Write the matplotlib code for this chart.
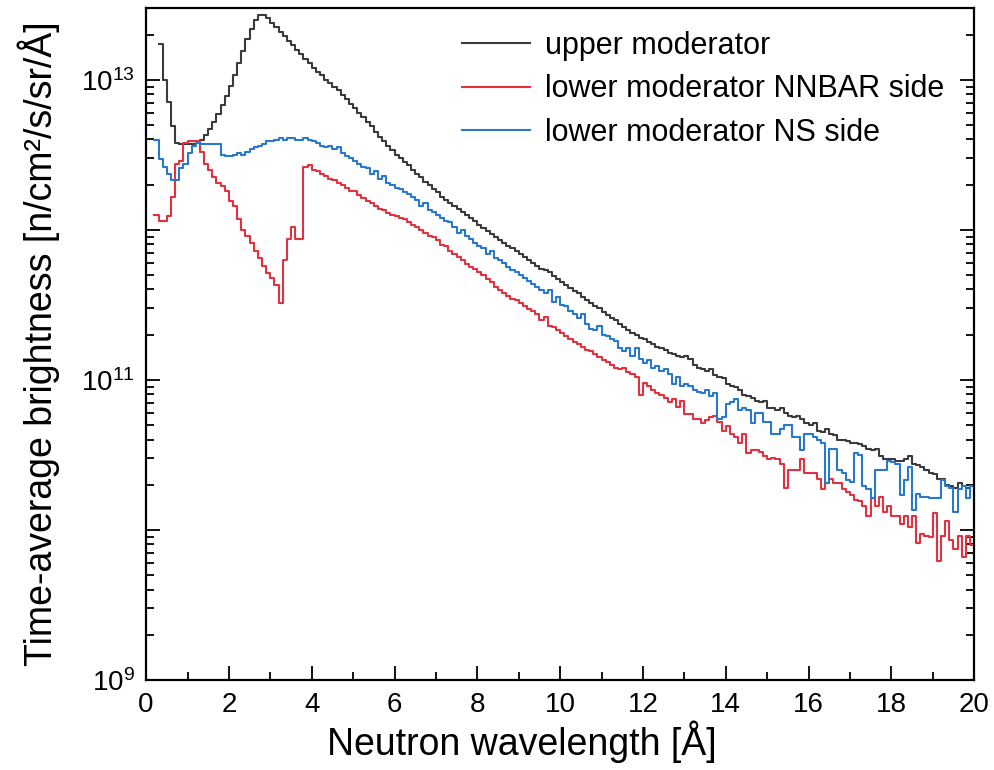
import numpy as np
import matplotlib
matplotlib.use("Agg")
import matplotlib.pyplot as plt
from matplotlib.ticker import FixedLocator, FuncFormatter, LogLocator, MultipleLocator

plt.rcParams["font.family"] = ["Liberation Sans", "DejaVu Sans"]
plt.rcParams["mathtext.fontset"] = "custom"
plt.rcParams["mathtext.rm"] = "Liberation Sans"

# 0.1 A bins, values as log10(brightness)
bin_width = 0.1

upper_start = 0.3
upper_log = [
    13.24, 13.00, 12.85, 12.69, 12.58, 12.57, 12.57,
    12.57, 12.57, 12.58, 12.60, 12.63, 12.67, 12.72, 12.77, 12.83, 12.89,
    12.96, 13.03, 13.11, 13.19, 13.27, 13.34, 13.40, 13.43, 13.43, 13.41,
    13.38, 13.35, 13.32, 13.29, 13.26, 13.23, 13.20, 13.17, 13.14, 13.11,
    13.08, 13.05, 13.03, 13.00, 12.98, 12.95, 12.93, 12.90, 12.87, 12.84,
    12.81, 12.78, 12.75, 12.72, 12.69, 12.65, 12.62, 12.59, 12.56, 12.53,
    12.50, 12.48, 12.45, 12.43, 12.40, 12.37, 12.35, 12.32, 12.30, 12.27,
    12.25, 12.22, 12.20, 12.18, 12.16, 12.14, 12.12, 12.10, 12.08, 12.06,
    12.03, 12.01, 11.99, 11.97, 11.95, 11.93, 11.91, 11.89, 11.88, 11.86,
    11.84, 11.82, 11.80, 11.78, 11.76, 11.74, 11.73, 11.72, 11.69, 11.67,
    11.65, 11.63, 11.61, 11.59, 11.58, 11.55, 11.53, 11.51, 11.49, 11.48,
    11.45, 11.43, 11.41, 11.40, 11.37, 11.35, 11.33, 11.31, 11.30, 11.28,
    11.27, 11.25, 11.24, 11.22, 11.21, 11.20, 11.18, 11.17, 11.16, 11.15,
    11.16, 11.14, 11.10, 11.08, 11.07, 11.06, 11.07, 11.03, 11.02, 11.01,
    10.97, 10.96, 10.95, 10.93, 10.90, 10.89, 10.88, 10.86, 10.85, 10.86,
    10.81, 10.81, 10.80, 10.81, 10.78, 10.76, 10.75, 10.76, 10.74, 10.71,
    10.70, 10.71, 10.66, 10.65, 10.67, 10.64, 10.63, 10.60, 10.60, 10.59,
    10.58, 10.58, 10.57, 10.56, 10.54, 10.53, 10.54, 10.49, 10.47, 10.47,
    10.47, 10.46, 10.46, 10.47, 10.49, 10.44, 10.43, 10.42, 10.40, 10.38,
    10.37, 10.34, 10.34, 10.30, 10.29, 10.28, 10.31, 10.29, 10.28, 10.29,
]

nnbar_start = 0.2
nnbar_log = [
    12.10, 12.06, 12.06, 12.09, 12.22, 12.44, 12.46, 12.58,
    12.59, 12.59, 12.59, 12.52, 12.44, 12.40, 12.35, 12.31, 12.29, 12.26,
    12.19, 12.16, 12.07, 12.00, 11.96, 11.91, 11.86, 11.81, 11.76, 11.71,
    11.68, 11.63, 11.51, 11.80, 11.94, 12.02, 11.94, 11.94, 12.42, 12.43,
    12.40, 12.39, 12.37, 12.36, 12.34, 12.33, 12.31, 12.30, 12.28, 12.26,
    12.26, 12.23, 12.21, 12.19, 12.18, 12.16, 12.14, 12.13, 12.11, 12.10,
    12.09, 12.08, 12.07, 12.05, 12.03, 12.02, 12.00, 11.98, 11.96, 11.95,
    11.93, 11.90, 11.89, 11.86, 11.84, 11.82, 11.80, 11.77, 11.75, 11.74,
    11.72, 11.70, 11.67, 11.65, 11.62, 11.60, 11.58, 11.56, 11.54, 11.53,
    11.51, 11.49, 11.47, 11.46, 11.44, 11.40, 11.42, 11.36, 11.35, 11.33,
    11.31, 11.29, 11.27, 11.25, 11.24, 11.22, 11.20, 11.19, 11.17, 11.15,
    11.13, 11.12, 11.10, 11.08, 11.07, 11.08, 11.05, 11.04, 11.02, 10.90,
    10.98, 10.96, 10.93, 10.91, 10.90, 10.88, 10.85, 10.87, 10.82, 10.86,
    10.77, 10.77, 10.74, 10.74, 10.71, 10.73, 10.75, 10.76, 10.72, 10.66,
    10.69, 10.64, 10.62, 10.58, 10.64, 10.51, 10.53, 10.53, 10.52, 10.49,
    10.47, 10.48, 10.47, 10.44, 10.28, 10.40, 10.40, 10.40, 10.47, 10.38,
    10.38, 10.38, 10.34, 10.27, 10.31, 10.34, 10.31, 10.31, 10.27, 10.25,
    10.23, 10.20, 10.19, 10.16, 10.09, 10.21, 10.16, 10.22, 10.12, 10.16,
    10.09, 10.09, 10.04, 10.09, 10.02, 10.09, 9.91, 9.97, 9.96, 9.95,
    10.11, 9.79, 9.96, 10.06, 9.93, 9.87, 9.96, 9.82, 9.96, 9.90,
]

ns_start = 0.2
ns_log = [
    12.60, 12.47, 12.42, 12.37, 12.33, 12.33, 12.41, 12.44,
    12.51, 12.56, 12.58, 12.57, 12.57, 12.57, 12.57, 12.57, 12.50, 12.49,
    12.49, 12.50, 12.51, 12.50, 12.52, 12.54, 12.55, 12.56, 12.57, 12.59,
    12.59, 12.60, 12.61, 12.60, 12.61, 12.61, 12.60, 12.60, 12.61, 12.60,
    12.59, 12.58, 12.56, 12.55, 12.56, 12.54, 12.55, 12.51, 12.49, 12.48,
    12.46, 12.44, 12.42, 12.41, 12.37, 12.39, 12.34, 12.36, 12.31, 12.30,
    12.28, 12.27, 12.25, 12.24, 12.22, 12.20, 12.16, 12.18, 12.13, 12.12,
    12.10, 12.08, 12.06, 12.05, 12.02, 11.98, 12.00, 11.96, 11.94, 11.91,
    11.89, 11.88, 11.84, 11.86, 11.81, 11.80, 11.78, 11.75, 11.73, 11.72,
    11.70, 11.68, 11.66, 11.64, 11.62, 11.60, 11.58, 11.60, 11.52, 11.55,
    11.50, 11.49, 11.46, 11.44, 11.41, 11.44, 11.37, 11.34, 11.33, 11.36,
    11.30, 11.29, 11.27, 11.26, 11.21, 11.19, 11.21, 11.16, 11.21, 11.14,
    11.11, 11.13, 11.08, 11.09, 11.06, 11.07, 11.04, 10.97, 11.02, 10.96,
    10.97, 10.96, 10.93, 10.92, 10.91, 10.93, 10.89, 10.91, 10.74, 10.75,
    10.84, 10.85, 10.87, 10.80, 10.81, 10.80, 10.71, 10.78, 10.78, 10.72,
    10.72, 10.64, 10.64, 10.67, 10.70, 10.70, 10.62, 10.62, 10.53, 10.64,
    10.64, 10.62, 10.60, 10.58, 10.31, 10.54, 10.54, 10.40, 10.38, 10.33,
    10.32, 10.51, 10.50, 10.29, 10.27, 10.21, 10.40, 10.40, 10.40, 10.46,
    10.45, 10.44, 10.23, 10.33, 10.42, 10.13, 10.24, 10.22, 10.22, 10.21,
    10.21, 10.21, 10.33, 10.29, 10.28, 10.12, 10.27, 10.29, 10.21, 10.29,
]

labels = ["upper moderator", "lower moderator NNBAR side", "lower moderator NS side"]
colors = ["#3a3a3a", "#e2323f", "#2878cc"]


def hist_xy(start, logs):
    vals = 10.0 ** np.array(logs)
    edges = start + bin_width * np.arange(len(vals) + 1)
    return edges, np.append(vals, vals[-1])


fig = plt.figure(figsize=(9.94, 7.70), dpi=100)
ax = fig.add_axes([0.147, 0.117, 0.833, 0.873])

series = [(upper_start, upper_log), (nnbar_start, nnbar_log), (ns_start, ns_log)]
for (start, logs), lab, col in zip(series, labels, colors):
    x, y = hist_xy(start, logs)
    ax.step(x, y, where="post", color=col, lw=1.5, label=lab)

ax.set_yscale("log")
ax.set_xlim(0, 20)
ax.set_ylim(1e9, 10 ** 13.48)

ax.xaxis.set_major_locator(MultipleLocator(2))
ax.xaxis.set_minor_locator(MultipleLocator(1))
ax.yaxis.set_major_locator(FixedLocator([1e9, 1e10, 1e11, 1e12, 1e13]))
ax.yaxis.set_minor_locator(LogLocator(base=10, subs=np.arange(2, 10)))


def ylab(v, pos):
    e = int(round(np.log10(v)))
    return r"$\mathregular{10^{%d}}$" % e if e % 2 == 1 else ""


ax.yaxis.set_major_formatter(FuncFormatter(ylab))
ax.yaxis.set_minor_formatter(FuncFormatter(lambda v, p: ""))

ax.tick_params(which="both", direction="in", right=True, top=False, width=1.3,
               labelsize=20)
ax.tick_params(which="major", length=10)
ax.tick_params(which="minor", length=6)
ax.tick_params(axis="x", pad=9)
ax.tick_params(axis="y", pad=8)
for s in ax.spines.values():
    s.set_linewidth(1.6)

ax.set_xlabel("Neutron wavelength [Å]", fontsize=27)
ax.xaxis.set_label_coords(0.454, -0.06)
ax.set_ylabel("Time-average brightness [n/cm²/s/sr/Å]", fontsize=27)
ax.yaxis.set_label_coords(-0.104, 0.5)

ax.legend(loc="upper left", bbox_to_anchor=(0.382, 0.966), frameon=False,
          fontsize=22, handlelength=2.2, handletextpad=0.5, labelspacing=0.45,
          borderpad=0, borderaxespad=0)

fig.savefig("out.png", dpi=100)
